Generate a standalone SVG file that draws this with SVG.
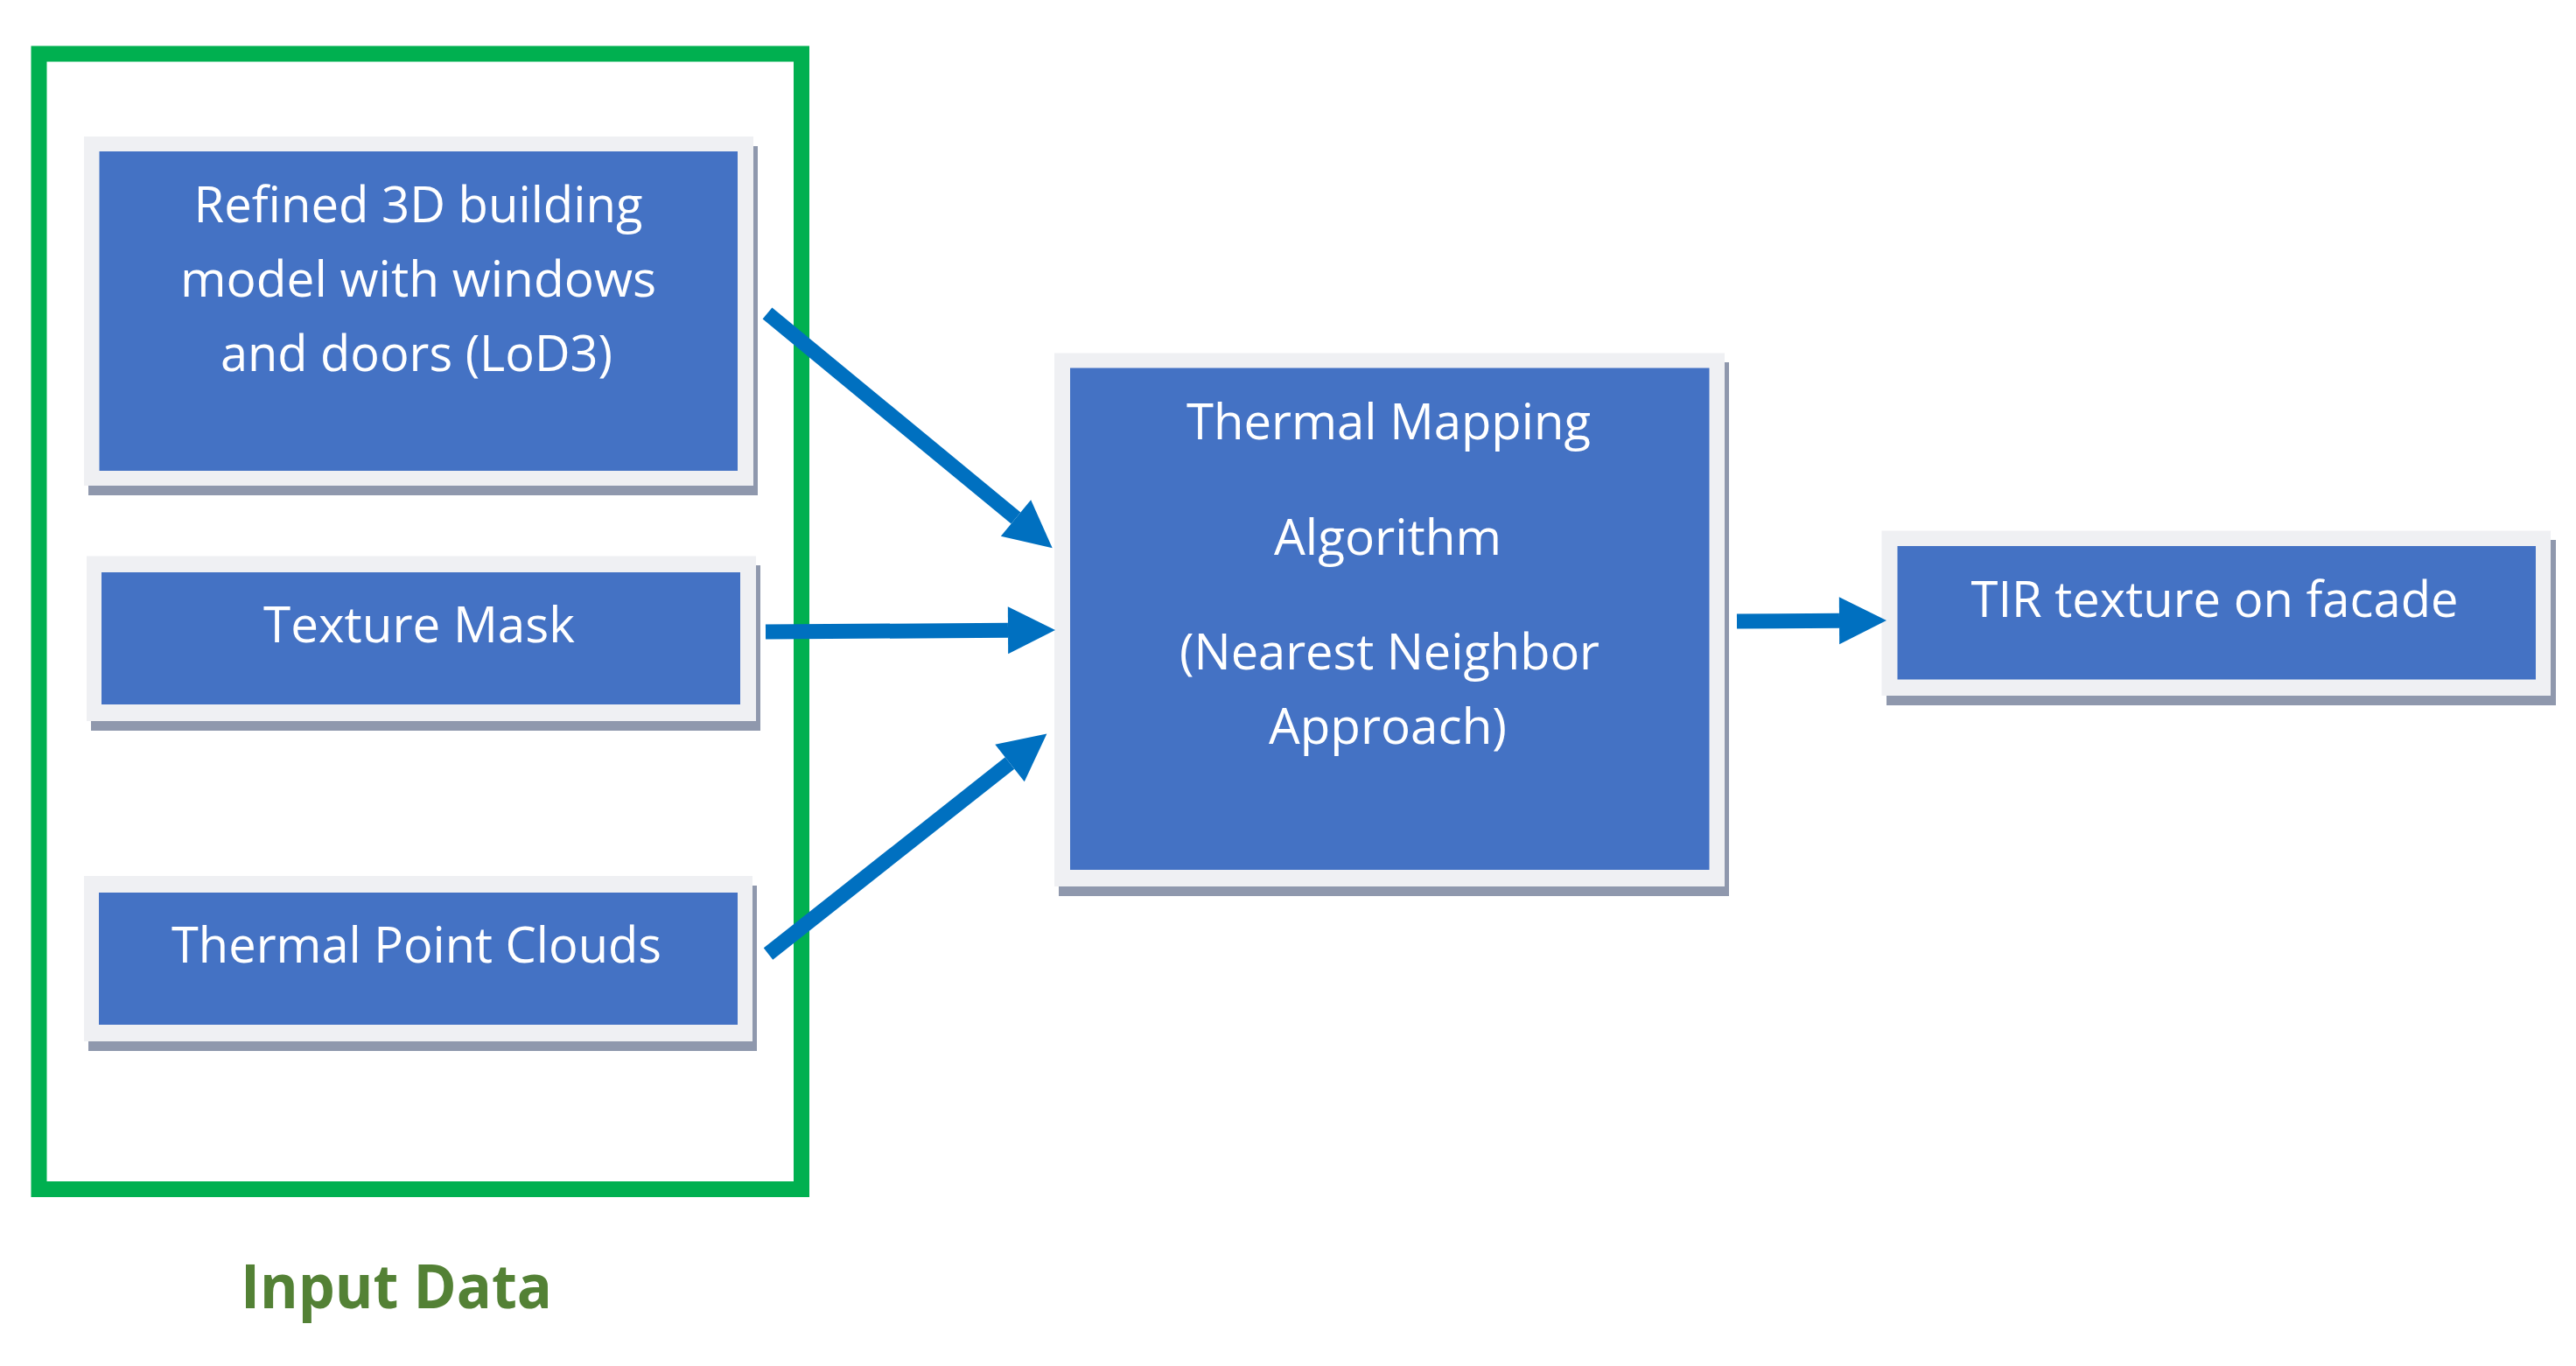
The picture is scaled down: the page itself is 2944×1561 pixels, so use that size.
<svg xmlns="http://www.w3.org/2000/svg" width="2944" height="1561" viewBox="0 0 2944 1561">
<style>
.sh{fill:#8F98AD}
.lt{fill:#EFF0F3}
.bl{fill:#4472C4}
.t{font-family:"Open Sans","Liberation Sans",sans-serif;font-size:56px;fill:#FFFFFF;text-anchor:middle}
.c{stroke:#0070C0;stroke-width:17;fill:none}
</style>
<defs>
<marker id="ah" markerUnits="userSpaceOnUse" markerWidth="56" markerHeight="56" refX="0" refY="27" orient="auto" overflow="visible">
<path d="M0,0 L54,27 L0,54 Z" fill="#0070C0"/>
</marker>
</defs>
<rect width="2944" height="1561" fill="#FFFFFF"/>
<g id="input-frame">
<rect x="44.5" y="61.5" width="871.5" height="1297.5" fill="none" stroke="#00B050" stroke-width="18"/>
<text x="453" y="1495" font-family="'Open Sans','Liberation Sans',sans-serif" font-weight="bold" font-size="70" fill="#538135" text-anchor="middle" textLength="356" lengthAdjust="spacingAndGlyphs">Input Data</text>
</g>
<g id="node-lod3">
<rect class="sh" x="101" y="167" width="765" height="399"/>
<rect class="lt" x="96" y="156" width="765" height="399"/>
<rect class="bl" x="113.5" y="173" width="729.5" height="365"/>
<text class="t" x="478" y="254" textLength="513" lengthAdjust="spacingAndGlyphs">Refined 3D building</text>
<text class="t" x="478" y="339" textLength="544" lengthAdjust="spacingAndGlyphs">model with windows</text>
<text class="t" x="476" y="424" textLength="448" lengthAdjust="spacingAndGlyphs">and doors (LoD3)</text>
</g>
<g id="node-mask">
<rect class="sh" x="104" y="646" width="765" height="189"/>
<rect class="lt" x="99" y="635.5" width="765" height="188.5"/>
<rect class="bl" x="116" y="654" width="730" height="151"/>
<text class="t" x="479" y="733.5" textLength="356" lengthAdjust="spacingAndGlyphs">Texture Mask</text>
</g>
<g id="node-clouds">
<rect class="sh" x="101" y="1012" width="764" height="189"/>
<rect class="lt" x="96" y="1001" width="764" height="189"/>
<rect class="bl" x="113" y="1020" width="730" height="151"/>
<text class="t" x="476" y="1099.5" textLength="560" lengthAdjust="spacingAndGlyphs">Thermal Point Clouds</text>
</g>
<g id="node-algorithm">
<rect class="sh" x="1210" y="414" width="766" height="610"/>
<rect class="lt" x="1205" y="403.5" width="766" height="609.5"/>
<rect class="bl" x="1223" y="420.5" width="730.5" height="573.5"/>
<text class="t" x="1587" y="502" textLength="462" lengthAdjust="spacingAndGlyphs">Thermal Mapping</text>
<text class="t" x="1586" y="633.5" textLength="260" lengthAdjust="spacingAndGlyphs">Algorithm</text>
<text class="t" x="1588" y="765" textLength="480" lengthAdjust="spacingAndGlyphs">(Nearest Neighbor</text>
<text class="t" x="1586" y="850" textLength="272" lengthAdjust="spacingAndGlyphs">Approach)</text>
</g>
<g id="node-tir">
<rect class="sh" x="2156" y="617" width="765" height="189"/>
<rect class="lt" x="2150.5" y="606.5" width="764.5" height="188.5"/>
<rect class="bl" x="2168.5" y="624" width="729.5" height="152.5"/>
<text class="t" x="2531" y="705" textLength="557" lengthAdjust="spacingAndGlyphs">TIR texture on facade</text>
</g>
<g id="connectors">
<line class="c" x1="877" y1="358" x2="1161" y2="592" marker-end="url(#ah)"/>
<line class="c" x1="875" y1="722" x2="1152" y2="720.3" marker-end="url(#ah)"/>
<line class="c" x1="878" y1="1090" x2="1154" y2="872" marker-end="url(#ah)"/>
<line class="c" x1="1985" y1="710" x2="2102" y2="709.3" marker-end="url(#ah)"/>
</g>
</svg>
